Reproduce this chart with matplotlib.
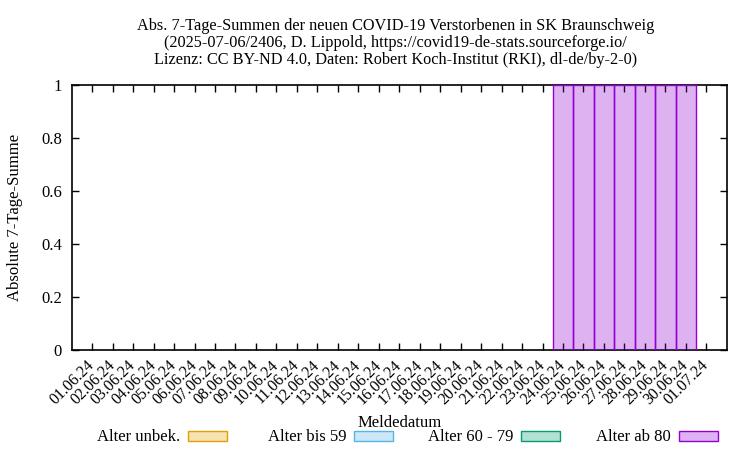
import matplotlib
matplotlib.use('Agg')
import matplotlib.pyplot as plt
from matplotlib.patches import Rectangle

plt.rcParams['font.family'] = ['Liberation Serif', 'DejaVu Serif']
plt.rcParams['font.size'] = 12

# data
dates = ['01.06.24', '02.06.24', '03.06.24', '04.06.24', '05.06.24', '06.06.24',
         '07.06.24', '08.06.24', '09.06.24', '10.06.24', '11.06.24', '12.06.24',
         '13.06.24', '14.06.24', '15.06.24', '16.06.24', '17.06.24', '18.06.24',
         '19.06.24', '20.06.24', '21.06.24', '22.06.24', '23.06.24', '24.06.24',
         '25.06.24', '26.06.24', '27.06.24', '28.06.24', '29.06.24', '30.06.24',
         '01.07.24']
unbek = [0] * 31
bis59 = [0] * 31
a60_79 = [0] * 31
ab80 = [0] * 23 + [1, 1, 1, 1, 1, 1, 1] + [0]

labels = ['Alter unbek.', 'Alter bis 59', 'Alter 60 - 79', 'Alter ab 80']
colors = ['#e69f00', '#56b4e9', '#009e73', '#9400d3']
series = [unbek, bis59, a60_79, ab80]

fig = plt.figure(figsize=(7.5, 4.5), dpi=100)
ax = fig.add_axes([0.0956, 0.222, 0.969 - 0.0956, 0.811 - 0.222])

x = list(range(len(dates)))
bottom = [0] * len(dates)
for vals, c in zip(series, colors):
    # only non-empty boxes are drawn
    idx = [i for i in x if vals[i] > 0]
    ax.bar(idx, [vals[i] for i in idx], bottom=[bottom[i] for i in idx], width=1.0,
           facecolor=matplotlib.colors.to_rgba(c, 0.3), edgecolor=c, linewidth=1.0, zorder=3)
    bottom = [b + v for b, v in zip(bottom, vals)]

ax.set_xlim(-1, len(dates))
ax.set_ylim(0, 1)
ax.set_xticks(x)
ax.set_xticklabels(dates, rotation=45, ha='right', va='center',
                   rotation_mode='anchor', fontsize=11.5)
ax.set_yticks([0, 0.2, 0.4, 0.6, 0.8, 1])
ax.set_yticklabels(['0', '0.2', '0.4', '0.6', '0.8', '1'])
ax.tick_params(direction='in', top=True, right=True, length=5, width=1)
ax.tick_params(axis='x', pad=9)
ax.tick_params(axis='y', pad=7)
for s in ax.spines.values():
    s.set_linewidth(1.2)
ax.set_ylabel('Absolute 7-Tage-Summe')
ax.yaxis.set_label_coords(-0.0866, 0.5)
ax.yaxis.label.set_verticalalignment('center')
ax.set_xlabel('Meldedatum')
ax.xaxis.set_label_coords(0.5, -0.275)
ax.xaxis.label.set_verticalalignment('center')

fig.text(0.527, 1 - 18 / 450,
         'Abs. 7-Tage-Summen der neuen COVID-19 Verstorbenen in SK Braunschweig\n'
         '(2025-07-06/2406, D. Lippold, https://covid19-de-stats.sourceforge.io/\n'
         'Lizenz: CC BY-ND 4.0, Daten: Robert Koch-Institut (RKI), dl-de/by-2-0)',
         ha='center', va='top', linespacing=1.07, fontsize=11.7)

# legend below, gnuplot style (text then box)
box_right = [227, 393, 560, 718]
for lab, c, br in zip(labels, colors, box_right):
    fig.text((br - 47) / 750, 1 - 437 / 450, lab, ha='right', va='center')
    fig.patches.append(Rectangle(((br - 39) / 750, 1 - 441 / 450), 39 / 750, 10 / 450,
                                 transform=fig.transFigure, facecolor=matplotlib.colors.to_rgba(c, 0.3),
                                 edgecolor=c, linewidth=1.0))

fig.savefig('out.png', dpi=100)
